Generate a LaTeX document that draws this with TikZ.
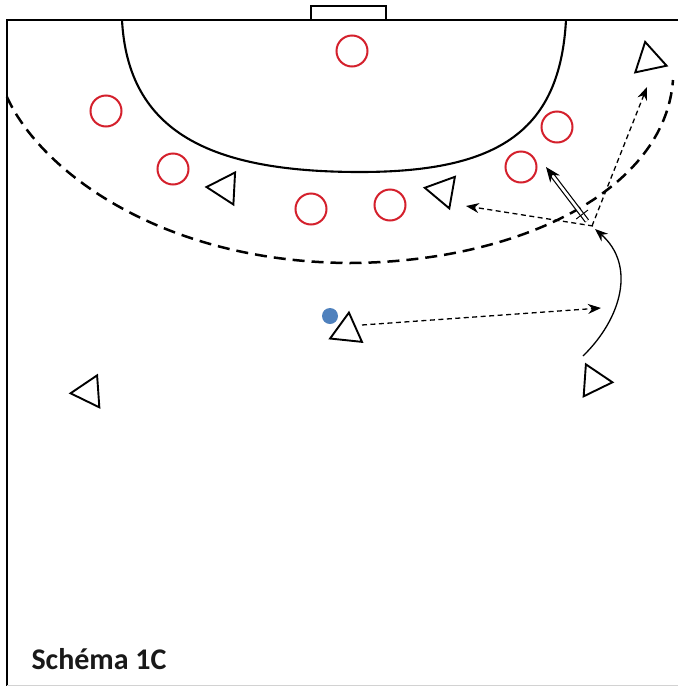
\documentclass[tikz,border=0pt]{standalone}
\usepackage{fontspec}
\setmainfont{Carlito}
\usetikzlibrary{arrows.meta,shapes.geometric}

\definecolor{defred}{RGB}{212,32,44}
\definecolor{ballblue}{RGB}{79,129,189}

\begin{document}
\begin{tikzpicture}[x=1pt,y=-1pt]
    % court play
    \tikzset{defender/.style = {shape=circle,draw=defred,line width=2pt,minimum size=31pt,inner sep=0pt}}
    \tikzset{attacker/.style = {shape=regular polygon,regular polygon sides=3,draw,line width=1.9pt,minimum size=37pt,inner sep=0pt}}
    \tikzset{pass/.style = {dash pattern=on 5pt off 3.5pt,line width=1.3pt,-{Stealth[length=13pt,width=10pt]}}}
    \tikzset{run/.style = {line width=1.3pt,-{Stealth[length=13pt,width=10pt]}}}
    \tikzset{screen/.style = {double,double distance=2.6pt,line width=1.2pt,-{Stealth[length=15pt,width=12pt]}}}

    \useasboundingbox (0,0) rectangle (678,686);

    % court lines
    \draw[line width=2.2pt] (311,20) -- (311,6) -- (386,6) -- (386,20);
    \draw[line width=2.4pt] (7,20) -- (678,20);
    \draw[line width=2.6pt] (7,19) -- (7,686);
    \draw[gray!35,line width=1pt] (7,685) -- (678,685);
    \draw[line width=2.1pt] (122,20) .. controls (128,132) and (210,172) .. (360,172)
       .. controls (500,172) and (560,130) .. (566,20);
    \draw[line width=2.5pt,dash pattern=on 12pt off 7pt] (7,97) .. controls (40,170) and (160,262) .. (350,263)
       .. controls (520,262) and (665,190) .. (673,80);

    % defenders
    \node[defender] (d1) at (352,51)  {};
    \node[defender] (d2) at (106,111) {};
    \node[defender] (d3) at (173,169) {};
    \node[defender] (d4) at (311,209) {};
    \node[defender] (d5) at (390,205) {};
    \node[defender] (d6) at (521,167) {};
    \node[defender] (d7) at (557,127) {};

    % attackers
    \node[attacker,shape border rotate=87]  (a1) at (225,188) {};
    \node[attacker,shape border rotate=80]  (a2) at (443,191) {};
    \node[attacker,shape border rotate=12]  (a3) at (649,60)  {};
    \node[attacker,shape border rotate=-6]  (a4) at (347,331) {};
    \node[attacker,shape border rotate=94]  (a5) at (89,392)  {};
    \node[attacker,shape border rotate=-94] (a6) at (594,381) {};

    % ball
    \node[circle,fill=ballblue,minimum size=16pt,inner sep=0pt] (ball) at (330,316) {};

    % moves
    \coordinate (cut)      at (595,229);
    \coordinate (runstart) at (583,356);
    \coordinate (passend)  at (601,308);
    \coordinate (pickend)  at (546,167);
    \coordinate (leftend)  at (466,206);
    \coordinate (upend)    at (647,87);

    \draw[pass] ([shift={(15,-6)}]a4.center) -- (passend);
    \draw[run] (runstart) .. controls (622,318) and (636,265) .. (cut);
    \draw[pass] ([shift={(-2,-3)}]cut) -- (leftend);
    \draw[pass] ([shift={(-3,-3)}]cut) -- (upend);
    \draw[screen] ([shift={(-8,-8)}]cut) -- (pickend)
       node[pos=0.12,sloped,draw,fill,shape=rectangle,inner sep=0pt,minimum width=0.1pt,minimum height=14pt,line width=0.8pt] (tick) {};

    % caption
    \node[anchor=base west,text=black!90] (title) at (28,669) {\fontsize{30}{33}\selectfont\bfseries Schéma 1C};
\end{tikzpicture}
\end{document}
